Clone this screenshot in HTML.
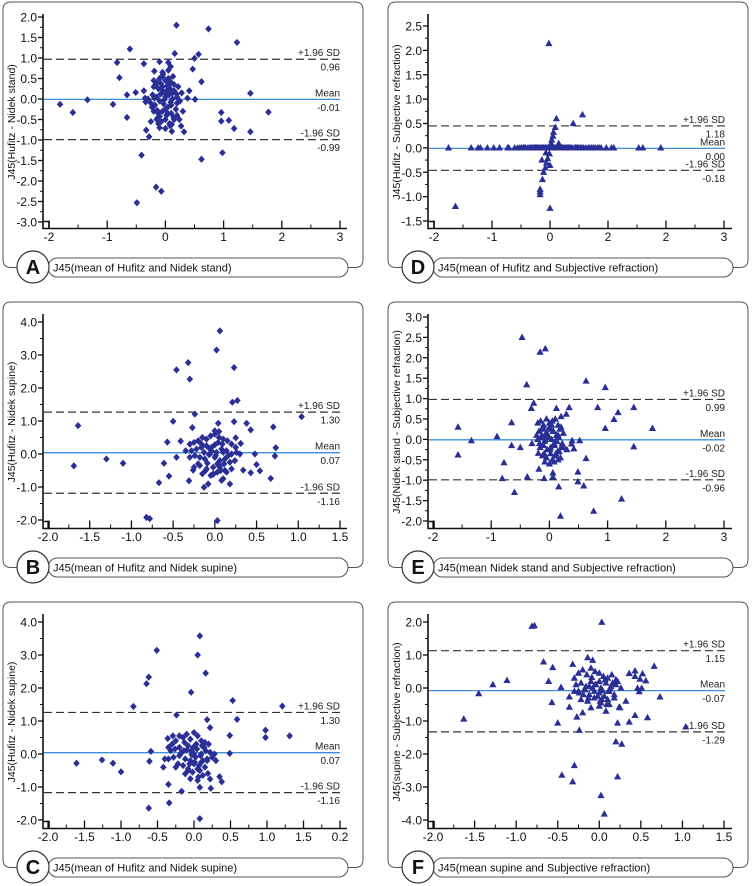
<!DOCTYPE html>
<html><head><meta charset="utf-8">
<style>
html,body{margin:0;padding:0;background:#fff;}
svg{display:block;font-family:"Liberation Sans",sans-serif;}
</style></head>
<body>
<svg id="fig" width="752" height="886" viewBox="0 0 752 886" xmlns="http://www.w3.org/2000/svg"></svg>
<script>
// ---- Panel A data ----
const aX=[-1.81,-1.59,-1.34,-0.90,-0.66,-0.66,-0.79,-0.83,-0.61,-0.37,-0.51,-0.37,-0.35,-0.34,-0.33,-0.28,-0.41,-0.49,-0.16,-0.07,0.19,0.74,1.23,0.57,0.50,0.16,0.47,0.62,0.41,0.51,0.38,1.46,1.77,0.96,0.96,1.09,1.18,1.46,0.98,0.62,0.32,0.11,0.27,-0.19,-0.10,0.05,0.09,
-0.2,-0.15,-0.1,-0.05,0,0.05,0.1,0.15,-0.2,-0.12,-0.05,0.02,0.08,0.15,0.22,-0.22,-0.15,-0.08,0,0.06,0.12,0.2,0.25,-0.25,-0.18,-0.1,-0.03,0.04,0.1,0.18,-0.2,-0.12,-0.05,0.02,0.1,0.2,-0.15,-0.07,0,0.07,0.15,0.24,-0.1,0,0.08,-0.25,0.3,-0.3,0.28,-0.05,0.05,-0.13,0.13,
-0.17,-0.08,0.03,0.12,-0.23,-0.02,0.09,0.19,-0.14,0.0,0.14,-0.19,-0.06,0.07,0.2,-0.1,0.04,-0.01,-0.12,0.11,-0.04,0.06];
const aY=[-0.13,-0.33,-0.02,-0.13,-0.45,0.10,0.52,0.89,1.22,0.86,0.16,0.20,0.02,-0.07,-0.76,-0.92,-1.37,-2.53,-2.15,-2.25,1.80,1.71,1.38,1.09,0.99,1.11,0.73,0.42,0.20,-0.01,0.02,0.14,-0.32,-0.33,-0.54,-0.52,-0.72,-0.80,-1.31,-1.47,-0.80,-0.79,-0.66,0.68,0.91,0.89,0.79,
0.45,0.4,0.5,0.55,0.45,0.5,0.4,0.35,0.3,0.25,0.3,0.2,0.25,0.2,0.3,0.1,0.05,0.12,0.05,0.1,0,0.05,-0.05,-0.1,-0.15,-0.05,-0.12,-0.2,-0.15,-0.25,-0.3,-0.35,-0.3,-0.4,-0.35,-0.4,-0.5,-0.55,-0.5,-0.6,-0.5,-0.5,-0.7,-0.72,-0.65,-0.55,-0.3,0.0,0.15,0.65,0.7,-0.45,0.55,
0.35,0.38,0.32,0.15,-0.2,-0.02,-0.08,0.12,-0.28,-0.25,-0.45,0.02,0.22,0.42,-0.1,-0.42,-0.35,0.15,-0.6,-0.62,0.6,0.28];
const aYTicks=[2.0,1.5,1.0,0.5,0.0,-0.5,-1.0,-1.5,-2.0,-2.5,-3.0];
const aXTicks=[-2,-1,0,1,2,3];
const aXLabels=["-2","-1","0","1","2","3"];
const aLimits=[0.97,-0.01,-0.99];
const aLimitLabels=["0.96","-0.01","-0.99"];

// ---- Panel D data ----
const dX=[-0.02,0.11,0.56,0.40,0.09,0.06,0.05,0.03,0.02,0.15,-0.07,-0.01,-0.04,-0.14,-0.06,0,-0.08,-0.11,-0.13,-0.17,-0.17,-0.17,0,-1.63,
-1.75,-1.36,-1.24,-1.20,-1.08,-0.97,-0.87,-0.73,-0.71,-0.61,-0.52,-0.46,-0.42,-0.38,-0.33,-0.29,-0.25,-0.21,-0.17,-0.13,-0.09,-0.05,-0.02,0.02,0.06,0.1,0.14,0.18,0.22,0.26,0.3,0.34,0.38,0.42,0.46,0.5,0.55,0.72,0.82,0.85,0.97,1.06,1.10,1.53,1.60,1.91,
-0.56,-0.49,-0.44,-0.35,-0.31,-0.27,-0.23,-0.19,-0.15,-0.11,-0.07,-0.03,0.0,0.04,0.08,0.12,0.16,0.2,0.24,0.28,0.32,0.36,0.44,0.48,0.53,0.58,0.62,0.66,0.69,0.75,0.78,0.88];
const dY=[2.14,0.60,0.68,0.50,0.42,0.32,0.24,0.16,0.09,0.09,-0.10,-0.12,-0.22,-0.25,-0.31,-0.36,-0.41,-0.50,-0.65,-0.85,-0.90,-0.96,-1.24,-1.20,
0,0,0,0,0,0,0,0,0,0,0,0,0,0,0,0,0,0,0,0,0,0,0,0,0,0,0,0,0,0,0,0,0,0,0,0,0,0,0,0,0,0,0,0,0,0,
0,0,0,0,0,0,0,0,0,0,0,0,0,0,0,0,0,0,0,0,0,0,0,0,0,0,0,0,0,0,0,0];
const dYTicks=[2.5,2.0,1.5,1.0,0.5,0.0,-0.5,-1.0,-1.5];
const dXTicks=[-2,-1,0,1,2,3];
const dXLabels=["-2","-1","0","2","2","3"];
const dLimits=[0.45,-0.01,-0.46];
const dLimitLabels=["1.18","0.00","-0.18"];

// ---- Panel B data ----
const bX=[-1.69,-1.64,-1.30,-1.10,-0.82,-0.78,-0.67,-0.61,-0.55,-0.57,-0.50,-0.46,-0.32,-0.30,-0.24,-0.27,-0.41,-0.46,-0.31,-0.26,-0.13,-0.08,0.02,0.06,0.23,0.27,0.21,0.23,0.04,0.03,0.38,0.43,0.70,1.04,0.73,0.72,0.67,0.54,0.50,0.48,0.43,0.34,0.31,0.25,0.18,
-0.3,-0.25,-0.2,-0.15,-0.1,-0.05,0,0.05,0.1,0.15,0.2,0.25,-0.28,-0.22,-0.16,-0.1,-0.04,0.02,0.08,0.14,0.2,0.26,-0.3,-0.24,-0.18,-0.12,-0.06,0,0.06,0.12,0.18,0.24,-0.25,-0.18,-0.1,-0.02,0.05,0.12,0.2,-0.15,-0.05,0.03,0.1,-0.02,0.08,0.3,-0.35,0.0,0.05,
-0.13,-0.07,0.01,0.09,0.16,-0.2,-0.09,0.03,0.11,-0.04,0.06,-0.16,0.0,0.14,-0.11,0.07,-0.02,0.04,-0.06,0.1];
const bY=[-0.36,0.86,-0.15,-0.28,-1.92,-1.96,-0.87,-0.28,-0.67,0.36,0.99,2.55,2.77,2.27,1.21,0.80,0.39,-0.10,-0.81,-0.49,-1.01,-0.91,3.15,3.73,2.62,1.62,1.57,0.98,0.93,-2.02,0.93,0.73,0.82,1.13,0.19,-0.06,-0.74,-0.51,-0.32,0.00,-0.57,-0.49,0.32,0.49,-0.91,
0.3,0.35,0.4,0.5,0.45,0.55,0.6,0.5,0.45,0.4,0.3,0.2,0.1,0.15,0.2,0.25,0.1,0.05,0.15,0.1,0.0,0.05,-0.1,-0.05,-0.1,-0.15,0,-0.1,-0.2,-0.15,-0.25,-0.2,-0.4,-0.35,-0.45,-0.4,-0.35,-0.5,-0.45,-0.6,-0.65,-0.55,-0.75,-0.6,-0.8,0.0,0.1,0.7,0.68,
0.05,-0.02,-0.05,0.3,-0.05,-0.3,-0.28,-0.3,-0.3,0.2,-0.4,0.3,0.28,-0.55,-0.5,-0.5,-0.62,0.35,0.15,0.05];
const bYTicks=[4.0,3.0,2.0,1.0,0.0,-1.0,-2.0];
const bXTicks=[-2.0,-1.5,-1.0,-0.5,0.0,0.5,1.0,1.5];
const bXLabels=["-2.0","-1.5","-1.0","-0.5","0.0","0.5","1.0","1.5"];
const bLimits=[1.27,0.04,-1.19];
const bLimitLabels=["1.30","0.07","-1.16"];

// ---- Panel E data ----
const eX=[-1.57,-1.57,-1.34,-0.90,-0.65,-0.65,-0.78,-0.81,-0.60,-0.50,-0.38,-0.39,-0.47,-0.16,-0.07,-0.31,-0.27,-0.19,-0.18,-0.09,0.12,0.34,0.29,0.20,0.63,0.96,0.83,1.18,1.11,0.96,1.45,1.77,1.45,0.52,0.39,0.38,0.42,0.63,0.49,0.49,0.59,0.16,0.76,0.19,1.24,0.06,0.06,
-0.2,-0.15,-0.1,-0.05,0,0.05,0.1,0.15,0.2,-0.18,-0.12,-0.06,0,0.06,0.12,0.18,0.24,-0.2,-0.14,-0.08,-0.02,0.04,0.1,0.16,0.22,-0.16,-0.1,-0.04,0.02,0.08,0.14,0.2,-0.12,-0.05,0.02,0.1,0.17,-0.08,0.0,0.08,0.15,-0.22,0.25,-0.3,0.3,
-0.13,-0.03,0.07,0.13,-0.09,0.01,0.11,-0.17,0.04,0.19,-0.07,0.09,-0.01,0.05,-0.11,0.15];
const eY=[0.30,-0.38,-0.03,0.07,0.41,-0.15,-0.57,-0.96,-1.30,-0.20,-0.92,1.34,2.50,2.14,2.22,0.76,0.89,-0.34,-0.73,-0.96,0.76,0.78,0.62,0.56,1.43,1.27,0.78,0.66,0.49,0.27,0.78,0.27,-0.18,-0.03,-0.03,-0.11,-0.23,-0.47,-0.80,-1.04,-1.14,-1.16,-1.76,-1.88,-1.46,-0.82,-0.92,
0.4,0.45,0.35,0.5,0.4,0.45,0.5,0.35,0.3,0.2,0.25,0.15,0.3,0.2,0.1,0.25,0.15,0.0,0.05,-0.05,0.05,0.0,-0.05,0.05,-0.1,-0.2,-0.15,-0.25,-0.2,-0.1,-0.3,-0.2,-0.4,-0.45,-0.35,-0.4,-0.3,-0.55,-0.6,-0.55,-0.5,0.1,-0.2,-0.1,-0.25,
0.1,0.12,0.2,-0.05,-0.35,-0.25,-0.35,-0.1,0.35,-0.45,0.0,-0.15,0.25,-0.5,0.3,0.1];
const eYTicks=[3.0,2.5,2.0,1.5,1.0,0.5,0.0,-0.5,-1.0,-1.5,-2.0];
const eXTicks=[-2,-1,0,1,2,3];
const eXLabels=["-2","-1","0","1","2","3"];
const eLimits=[0.98,-0.01,-0.99];
const eLimitLabels=["0.99","-0.02","-0.96"];

// ---- Panel C data ----
const cX=[-1.61,-1.26,-1.11,-1.00,-0.83,-0.65,-0.62,-0.51,-0.59,-0.61,-0.62,-0.34,-0.35,-0.42,-0.36,-0.29,-0.24,-0.17,-0.04,0.05,0.08,0.16,0.08,0.08,0.18,0.22,0.53,0.59,0.49,0.49,0.98,0.98,1.21,1.31,0.38,0.35,0.23,0.22,0.19,
-0.35,-0.3,-0.25,-0.2,-0.15,-0.1,-0.05,0,0.05,0.1,0.15,0.2,-0.32,-0.26,-0.2,-0.14,-0.08,-0.02,0.04,0.1,0.16,0.22,0.28,-0.35,-0.28,-0.2,-0.12,-0.05,0.02,0.1,0.18,0.25,-0.25,-0.15,-0.08,0,0.08,0.15,-0.12,-0.02,0.06,0.12,-0.05,0.05,0.3,-0.4,
-0.17,-0.1,-0.03,0.03,0.09,0.14,-0.22,-0.06,0.01,0.07,0.12,-0.13,-0.01,0.11,-0.08,0.05,-0.18,0.18,0.0,-0.04];
const cY=[-0.28,-0.18,-0.28,-0.54,1.44,2.13,2.33,3.14,0.08,-0.22,-1.64,-1.48,-0.92,-0.40,0.47,0.55,1.18,-1.13,1.87,3.00,3.58,2.45,-1.96,-1.01,1.04,0.80,1.62,1.05,0.56,0.02,0.72,0.50,1.45,0.55,-0.84,-0.69,-1.04,-0.76,-0.59,
0.2,0.3,0.4,0.55,0.5,0.6,0.45,0.65,0.55,0.4,0.35,0.3,0.1,0.15,0.2,0.1,0.25,0.05,0.15,0.0,0.1,0.05,0.0,-0.15,-0.1,-0.05,-0.15,-0.2,-0.1,-0.25,-0.15,-0.1,-0.4,-0.35,-0.45,-0.3,-0.5,-0.4,-0.6,-0.55,-0.7,-0.65,-0.75,-0.8,-0.2,-0.15,
0.05,0.12,-0.02,0.3,-0.05,0.2,-0.3,-0.3,-0.25,-0.35,-0.2,0.35,0.2,0.25,-0.5,-0.45,0.02,-0.2,0.0,0.1];
const cYTicks=[4.0,3.0,2.0,1.0,0.0,-1.0,-2.0];
const cXTicks=[-2.0,-1.5,-1.0,-0.5,0.0,0.5,1.0,1.5,2.0];
const cXLabels=["-2.0","-1.5","-1.0","-0.5","0.0","0.5","1.0","1.5","0.2"];
const cLimits=[1.26,0.04,-1.17];
const cLimitLabels=["1.30","0.07","-1.16"];

// ---- Panel F data ----
const fX=[-1.63,-1.45,-1.28,-1.11,-0.81,-0.78,-0.67,-0.56,-0.61,-0.57,-0.46,-0.50,-0.45,-0.32,-0.30,-0.24,-0.27,-0.36,-0.36,-0.32,-0.14,-0.08,0.03,0.02,0.06,0.20,0.27,0.22,0.22,0.36,0.43,0.58,0.66,0.56,0.52,0.49,0.43,0.43,0.36,0.51,0.46,0.48,0.73,1.04,0.32,0.24,
-0.3,-0.25,-0.2,-0.15,-0.1,-0.05,0,0.05,0.1,0.15,0.2,-0.28,-0.22,-0.16,-0.1,-0.04,0.02,0.08,0.14,0.2,0.26,-0.3,-0.24,-0.18,-0.12,-0.06,0,0.06,0.12,0.18,-0.22,-0.14,-0.06,0.02,0.1,0.18,-0.1,0.0,0.08,-0.2,0.12,0.25,
-0.17,-0.08,0.0,0.04,0.11,-0.13,-0.02,0.07,0.16,-0.19,-0.09,0.03,0.13,-0.05,0.09,-0.25,0.22,-0.12,0.01];
const fY=[-0.94,-0.17,0.10,0.23,1.87,1.89,0.79,0.62,0.20,-0.44,0.02,-1.06,-2.64,-2.84,-2.35,-1.28,-0.88,-0.58,-0.27,0.72,0.92,0.84,1.99,-3.26,-3.82,-1.63,-1.70,-2.69,-1.06,-1.03,-0.83,-0.90,0.66,0.22,0.43,0.27,0.52,0.35,0.44,-0.01,-0.01,-0.11,-0.27,-1.18,-0.40,-0.58,
0.3,0.45,0.55,0.4,0.6,0.5,0.45,0.35,0.3,0.4,0.25,0.1,0.15,0.05,0.2,0.1,0.0,0.15,0.05,0.1,0.0,-0.1,-0.15,-0.05,-0.2,-0.1,-0.15,-0.25,-0.1,-0.2,-0.35,-0.4,-0.3,-0.45,-0.35,-0.3,-0.6,-0.55,-0.7,-0.75,-0.5,-0.6,
-0.05,0.0,0.2,-0.08,-0.1,-0.3,-0.25,0.25,0.15,-0.2,0.32,-0.35,-0.02,0.1,-0.5,-0.1,0.2,0.05,-0.4];
const fYTicks=[2.0,1.0,0.0,-1.0,-2.0,-3.0,-4.0];
const fXTicks=[-2.0,-1.5,-1.0,-0.5,0.0,0.5,1.0,1.5];
const fXLabels=["-2.0","-1.5","-1.0","-0.5","0.0","0.5","1.0","1.5"];
const fLimits=[1.13,-0.08,-1.33];
const fLimitLabels=["1.15","-0.07","-1.29"];

const NS="http://www.w3.org/2000/svg";
const svg=document.getElementById("fig");
function mk(tag,attrs,parent){const e=document.createElementNS(NS,tag);for(const k in attrs)e.setAttribute(k,attrs[k]);(parent||svg).appendChild(e);return e;}

function panel(cfg){
  const ox=cfg.ox, oy=cfg.oy;
  const g=mk("g",{transform:"translate("+ox+","+oy+")"});
  
  
  const xS=v=>cfg.px0+(v-cfg.x0)*(cfg.px1-cfg.px0)/(cfg.x1-cfg.x0);
  const yS=v=>cfg.py0+(cfg.y0-v)*(cfg.py1-cfg.py0)/(cfg.y0-cfg.y1);
  const AX=43, AY=228.5, RIGHT=340;
  const fr=mk("path",{d:"M48,267.5 L11,267.5 Q3,267.5 3,259.5 L3,10 Q3,2 11,2 L355,2 Q363,2 363,10 L363,259.5 Q363,267.5 355,267.5 L348,267.5",fill:"none",stroke:"#555","stroke-width":1},g);
  
  
  const ax=mk("path",{d:"M"+AX+",14 L"+AX+","+AY+" L347,"+AY,fill:"none",stroke:"#111","stroke-width":1.6},g);
  
  
  mk("path",{d:"M"+(AX+1)+","+(AY-7)+" L"+(AX+6)+","+(AY-7)+" L"+(AX+6)+","+AY,fill:"none",stroke:"#111","stroke-width":1.6},g);
  const yt=cfg.yTicks;
  yt.forEach((v,i)=>{
    const y=yS(v);
    mk("line",{x1:AX-5,x2:AX,y1:y,y2:y,stroke:"#111","stroke-width":1.3},g);
    if(i<yt.length-1){const ym=yS((v+yt[i+1])/2);mk("line",{x1:AX-3,x2:AX,y1:ym,y2:ym,stroke:"#111","stroke-width":1},g);}
    const t=mk("text",{x:AX-6,y:y+4.5,"text-anchor":"end","font-size":12,fill:"#111"},g);
    t.textContent=v.toFixed(1);
    
    
  });
  const xt=cfg.xTicks;
  xt.forEach((v,i)=>{
    const x=xS(v);
    mk("line",{x1:x,x2:x,y1:AY-8,y2:AY,stroke:"#111","stroke-width":1.3},g);
    if(i<xt.length-1){const xm=xS((v+xt[i+1])/2);mk("line",{x1:xm,x2:xm,y1:AY-4,y2:AY,stroke:"#111","stroke-width":1},g);}
    const t=mk("text",{x:x,y:AY+12.5,"text-anchor":"middle","font-size":12,fill:"#111"},g);
    t.textContent=cfg.xLabels[i];
    
    
  });
  const names=["upper-loa-line","mean-line","lower-loa-line"];
  const heads=["+1.96 SD","Mean","-1.96 SD"];
  cfg.limits.forEach((v,i)=>{
    const y=yS(v);
    const l=mk("line",{x1:AX+1,x2:RIGHT,y1:y,y2:y,stroke:i==1?"#3d8fdb":"#333","stroke-width":i==1?1.3:1.2,"stroke-dasharray":i==1?"none":"8,4"},g);
    
    
    const t1=mk("text",{x:RIGHT,y:y-3,"text-anchor":"end","font-size":10,fill:"#222"},g);
    t1.textContent=heads[i];
    
    
    const t2=mk("text",{x:RIGHT,y:y+11.5,"text-anchor":"end","font-size":10,fill:"#222"},g);
    t2.textContent=cfg.limitLabels[i];
    
    
  });
  for(let i=0;i<cfg.xs.length;i++){
    const x=xS(cfg.xs[i]), y=yS(cfg.ys[i]);
    let p;
    if(cfg.tri){p=mk("polygon",{points:(x)+","+(y-3.9)+" "+(x+3.6)+","+(y+2.6)+" "+(x-3.6)+","+(y+2.6),fill:"#2a2f96"},g);}
    else{p=mk("polygon",{points:x+","+(y-3.6)+" "+(x+3.3)+","+y+" "+x+","+(y+3.6)+" "+(x-3.3)+","+y,fill:"#2a2f96"},g);}
    
    
  }
  const yt2=mk("text",{x:0,y:0,transform:"translate(15,122) rotate(-90)","text-anchor":"middle","font-size":10.5,fill:"#111"},g);
  yt2.textContent=cfg.yTitle;
  
  
  const pill=mk("rect",{x:48,y:258,width:300,height:19,rx:9.5,fill:"#fff",stroke:"#555","stroke-width":1},g);
  
  
  const xt2=mk("text",{x:53,y:271.5,"font-size":11,fill:"#111"},g);
  xt2.textContent=cfg.xTitle;
  
  
  const c=mk("circle",{cx:33,cy:267,r:16,fill:"#fff",stroke:"#333","stroke-width":1.2},g);
  
  
  const lt=mk("text",{x:33,y:274,"text-anchor":"middle","font-size":20,"font-weight":"bold",fill:"#111"},g);
  lt.textContent=cfg.letter;
  
  
}

panel({letter:"A",ox:0,oy:0,xs:aX,ys:aY,tri:false,x0:-2,x1:3,px0:49,px1:340,y0:2.0,y1:-3.0,py0:17,py1:222,yTicks:aYTicks,xTicks:aXTicks,xLabels:aXLabels,limits:aLimits,limitLabels:aLimitLabels,yTitle:"J45(Hufitz - Nidek stand)",xTitle:"J45(mean of Hufitz and Nidek stand)"});
panel({letter:"D",ox:385,oy:0,xs:dX,ys:dY,tri:true,x0:-2,x1:3,px0:49,px1:339,y0:2.5,y1:-1.5,py0:26,py1:221,yTicks:dYTicks,xTicks:dXTicks,xLabels:dXLabels,limits:dLimits,limitLabels:dLimitLabels,yTitle:"J45(Hufitz - Subjective refraction)",xTitle:"J45(mean of Hufitz and Subjective refraction)"});
panel({letter:"B",ox:0,oy:300,xs:bX,ys:bY,tri:false,x0:-2,x1:1.5,px0:48,px1:340,y0:4.0,y1:-2.0,py0:22,py1:220,yTicks:bYTicks,xTicks:bXTicks,xLabels:bXLabels,limits:bLimits,limitLabels:bLimitLabels,yTitle:"J45(Hufitz - Nidek supine)",xTitle:"J45(mean of Hufitz and Nidek supine)"});
panel({letter:"E",ox:385,oy:300,xs:eX,ys:eY,tri:true,x0:-2,x1:3,px0:48,px1:339,y0:3.0,y1:-2.0,py0:17,py1:221,yTicks:eYTicks,xTicks:eXTicks,xLabels:eXLabels,limits:eLimits,limitLabels:eLimitLabels,yTitle:"J45(Nidek stand - Subjective refraction)",xTitle:"J45(mean Nidek stand and Subjective refraction)"});
panel({letter:"C",ox:0,oy:600,xs:cX,ys:cY,tri:false,x0:-2,x1:2,px0:48,px1:340,y0:4.0,y1:-2.0,py0:22,py1:220,yTicks:cYTicks,xTicks:cXTicks,xLabels:cXLabels,limits:cLimits,limitLabels:cLimitLabels,yTitle:"J45(Hufitz - Nidek supine)",xTitle:"J45(mean of Hufitz and Nidek supine)"});
panel({letter:"F",ox:385,oy:600,xs:fX,ys:fY,tri:true,x0:-2,x1:1.5,px0:48,px1:339,y0:2.0,y1:-4.0,py0:22,py1:220,yTicks:fYTicks,xTicks:fXTicks,xLabels:fXLabels,limits:fLimits,limitLabels:fLimitLabels,yTitle:"J45(supine - Subjective refraction)",xTitle:"J45(mean supine and Subjective refraction)"});
</script>
</body></html>
